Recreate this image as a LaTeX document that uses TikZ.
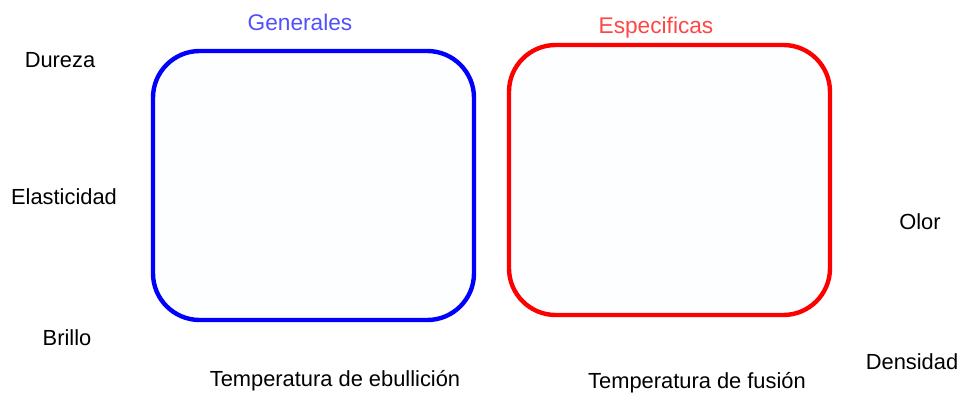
\documentclass[tikz,border=0pt]{standalone}
\usepackage{amsmath}
\usepackage{amssymb}
\usepackage{fontspec}
\setmainfont{Liberation Sans}
\usepackage{tikz}

\begin{document}
\begin{tikzpicture}[x=0.75pt,y=0.75pt,yscale=-1,xscale=1]
\path[use as bounding box] (0,0) rectangle (961,396);

%Rounded Rect [id:generales]
\draw  [color={rgb, 255:red, 0; green, 0; blue, 255 }  ,draw opacity=1 ][fill={rgb, 255:red, 253; green, 254; blue, 255 }  ,fill opacity=1 ][line width=3.3] [rounded corners=35]  (153,51) rectangle (474,320) ;
%Rounded Rect [id:especificas]
\draw  [color={rgb, 255:red, 255; green, 0; blue, 0 }  ,draw opacity=1 ][fill={rgb, 255:red, 253; green, 254; blue, 255 }  ,fill opacity=1 ][line width=3.3] [rounded corners=35]  (509,45) rectangle (830,315) ;

% Text Node
\draw (300,22) node (gen) [color={rgb, 255:red, 80; green, 80; blue, 255 }][inner sep=0.75pt]  [font=\fontsize{17}{20}\selectfont] [align=left] {Generales};
% Text Node
\draw (656,28) node (esp) [color={rgb, 255:red, 255; green, 70; blue, 70 }][inner sep=0.75pt]  [font=\fontsize{17}{20}\selectfont] [align=left] {Especificas};
% Text Node
\draw (60,60) node (dur) [inner sep=0.75pt]  [font=\fontsize{16.4}{19}\selectfont] [align=left] {Dureza};
% Text Node
\draw (64,197) node (ela) [inner sep=0.75pt]  [font=\fontsize{16.4}{19}\selectfont] [align=left] {Elasticidad};
% Text Node
\draw (67,338) node (bri) [inner sep=0.75pt]  [font=\fontsize{16.4}{19}\selectfont] [align=left] {Brillo};
% Text Node
\draw (920,222) node (olo) [inner sep=0.75pt]  [font=\fontsize{16.4}{19}\selectfont] [align=left] {Olor};
% Text Node
\draw (912,362) node (den) [inner sep=0.75pt]  [font=\fontsize{16.4}{19}\selectfont] [align=left] {Densidad};
% Text Node
\draw (335,381) node (teb) [inner sep=0.75pt]  [font=\fontsize{16.4}{19}\selectfont] [align=left] {Temperatura de ebullición};
% Text Node
\draw (697,383) node (tfu) [inner sep=0.75pt]  [font=\fontsize{16.4}{19}\selectfont] [align=left] {Temperatura de fusión};

\end{tikzpicture}
\end{document}
